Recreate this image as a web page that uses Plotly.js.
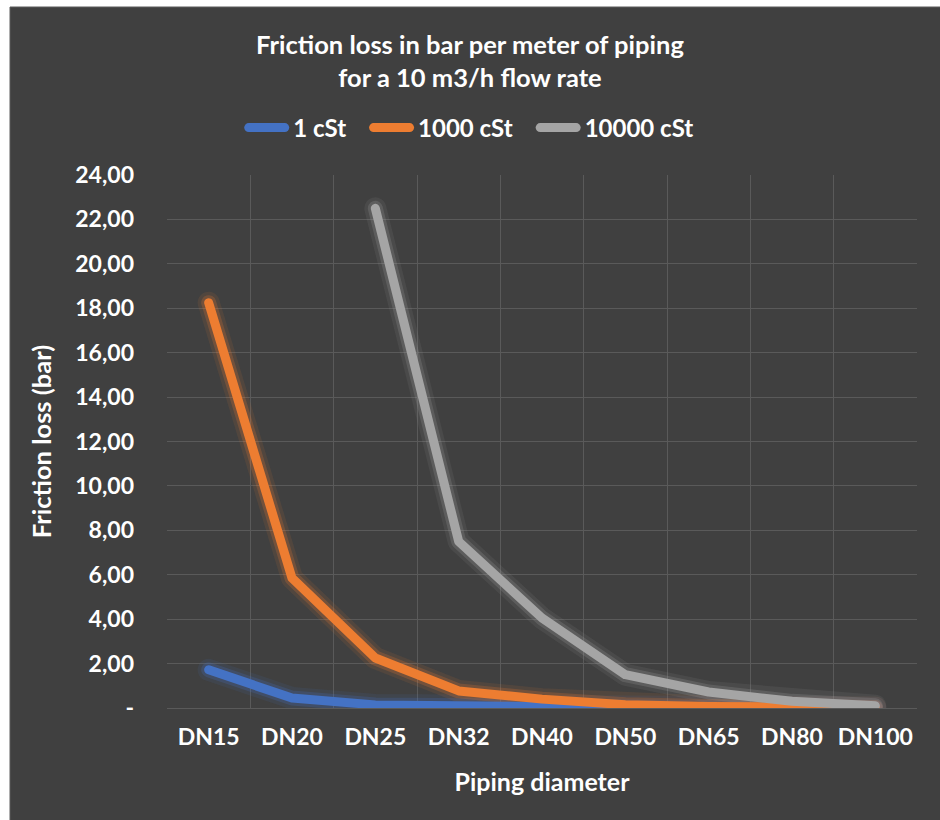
<!DOCTYPE html>
<html>
<head>
<meta charset="utf-8">
<script src="https://cdn.plot.ly/plotly-3.0.1.min.js"></script>
<style>html,body{margin:0;padding:0;background:#fff;}#chart{width:940px;height:820px;}</style>
</head>
<body>
<div id="chart"></div>
<script>
// ---- data ----
const categories = ["DN15","DN20","DN25","DN32","DN40","DN50","DN65","DN80","DN100"];
const cst1 =     [1.72, 0.45, 0.14, 0.08, 0.05, 0.03, 0.02, 0.01, 0.01];
const cst1000 =  [18.25, 5.85, 2.25, 0.77, 0.40, 0.15, 0.07, 0.03, 0.02];
const cst10000 = [null, null, 22.5, 7.5, 4.05, 1.5, 0.72, 0.30, 0.10];
const seriesNames = ["1 cSt", "1000 cSt", "10000 cSt"];
const yTickVals = [0,2,4,6,8,10,12,14,16,18,20,22,24];
const yTickText = ["-","2,00","4,00","6,00","8,00","10,00","12,00","14,00","16,00","18,00","20,00","22,00","24,00"];

const colors = ["#4472C4", "#ED7D31", "#A5A5A5"];
const series = [cst1, cst1000, cst10000];
const FONT = "Lato, Open Sans, sans-serif";

const traces = [];
// glow layers
series.forEach((s, i) => {
  traces.push({x: categories, y: s, type: "scatter", mode: "lines", showlegend: false, hoverinfo: "skip",
    line: {color: colors[i], width: 22}, opacity: 0.10});
  traces.push({x: categories, y: s, type: "scatter", mode: "lines", showlegend: false, hoverinfo: "skip",
    line: {color: colors[i], width: 15}, opacity: 0.22});
});
series.forEach((s, i) => {
  traces.push({x: categories, y: s, type: "scatter", mode: "lines", name: seriesNames[i],
    line: {color: colors[i], width: 9}});
});

const W = 750, H = 533, L = 167, T = 175;
const layout = {
  width: 940, height: 820,
  paper_bgcolor: "#ffffff",
  plot_bgcolor: "#404040",
  margin: {l: 167, r: 23, t: 175, b: 112},
  font: {family: FONT, color: "#ffffff"},
  title: {
    text: "Friction loss in bar per meter of piping<br>for a 10 m3/h flow rate",
    font: {family: FONT, size: 25.5, color: "#ffffff", weight: 700},
    x: 0.5, xref: "container", xanchor: "center",
    y: 1 - 54/820, yref: "container", yanchor: "middle"
  },
  showlegend: true,
  legend: {
    orientation: "h", x: (471 - L)/W, xanchor: "center", y: (708 - 128)/H, yanchor: "middle",
    font: {family: FONT, size: 24, color: "#ffffff", weight: 700},
    bgcolor: "rgba(0,0,0,0)", itemwidth: 30, traceorder: "normal"
  },
  xaxis: {
    type: "category", range: [-0.5, 8.5], tickson: "boundaries",
    showgrid: true, gridcolor: "#5a5a5a", gridwidth: 1,
    showline: false, zeroline: false, ticks: "",
    tickfont: {family: FONT, size: 23, color: "#ffffff", weight: 700},
    ticklabelstandoff: 13,
    title: {text: "Piping diameter", font: {family: FONT, size: 25, color: "#ffffff", weight: 700}, standoff: 24},
    automargin: false, fixedrange: true
  },
  yaxis: {
    range: [0, 24], tickvals: yTickVals, ticktext: yTickText,
    showgrid: true, gridcolor: "#5a5a5a", gridwidth: 1,
    zeroline: true, zerolinecolor: "#5a5a5a", zerolinewidth: 1,
    showline: false, ticks: "",
    tickfont: {family: FONT, size: 23, color: "#ffffff", weight: 700},
    ticklabelstandoff: 32,
    title: {text: "Friction loss (bar)", font: {family: FONT, size: 25.5, color: "#ffffff", weight: 700}, standoff: 16},
    automargin: false, fixedrange: true
  },
  shapes: [{
    type: "rect", xref: "paper", yref: "paper", layer: "below",
    x0: (10 - L)/W, x1: (945 - L)/W, y0: (708 - 825)/H, y1: (708 - 7)/H,
    fillcolor: "#404040", line: {color: "#5a5a5a", width: 1}
  }]
};

Plotly.newPlot("chart", traces, layout, {staticPlot: true, displayModeBar: false}).then(() => {
  document.querySelectorAll("path.js-line").forEach(p => {
    p.style.strokeLinecap = "round";
    p.style.strokeLinejoin = "round";
  });
  // legend styling: longer line symbols, wider gaps, no clipping
  const legend = document.querySelector(".legend");
  if (!legend) return;
  legend.querySelectorAll("[clip-path]").forEach(el => el.removeAttribute("clip-path"));
  const items = Array.from(legend.querySelectorAll(".traces"));
  const SYM = 45, TXTGAP = 4, ITEMGAP = 23;
  let x = 0, yv = null;
  items.forEach(g => {
    const m = (g.getAttribute("transform") || "").match(/translate\(\s*([-\d.]+)[ ,]+([-\d.]+)\s*\)/);
    yv = m ? m[2] : 0;
    g.querySelectorAll(".legendlines path").forEach(p => {
      p.setAttribute("d", "M4.5,0h" + (SYM - 9));
      p.style.strokeLinecap = "round";
    });
    const t = g.querySelector("text.legendtext");
    t.setAttribute("x", SYM + TXTGAP);
    t.querySelectorAll("tspan").forEach(ts => { if (ts.hasAttribute("x")) ts.setAttribute("x", SYM + TXTGAP); });
    g.setAttribute("transform", "translate(" + x + "," + yv + ")");
    x += SYM + TXTGAP + t.getComputedTextLength() + ITEMGAP;
  });
  // re-center the legend at x = 471 px
  const first = items[0].querySelector(".legendlines path").getBoundingClientRect();
  const lastT = items[items.length - 1].querySelector("text.legendtext").getBoundingClientRect();
  const chartRect = document.getElementById("chart").getBoundingClientRect();
  const left = first.left - chartRect.left, right = lastT.right - chartRect.left;
  const shift = 471 - (left + right) / 2;
  items.forEach(g => {
    const m = g.getAttribute("transform").match(/translate\(\s*([-\d.]+)[ ,]+([-\d.]+)\s*\)/);
    g.setAttribute("transform", "translate(" + (parseFloat(m[1]) + shift) + "," + m[2] + ")");
  });
});
</script>
</body>
</html>
